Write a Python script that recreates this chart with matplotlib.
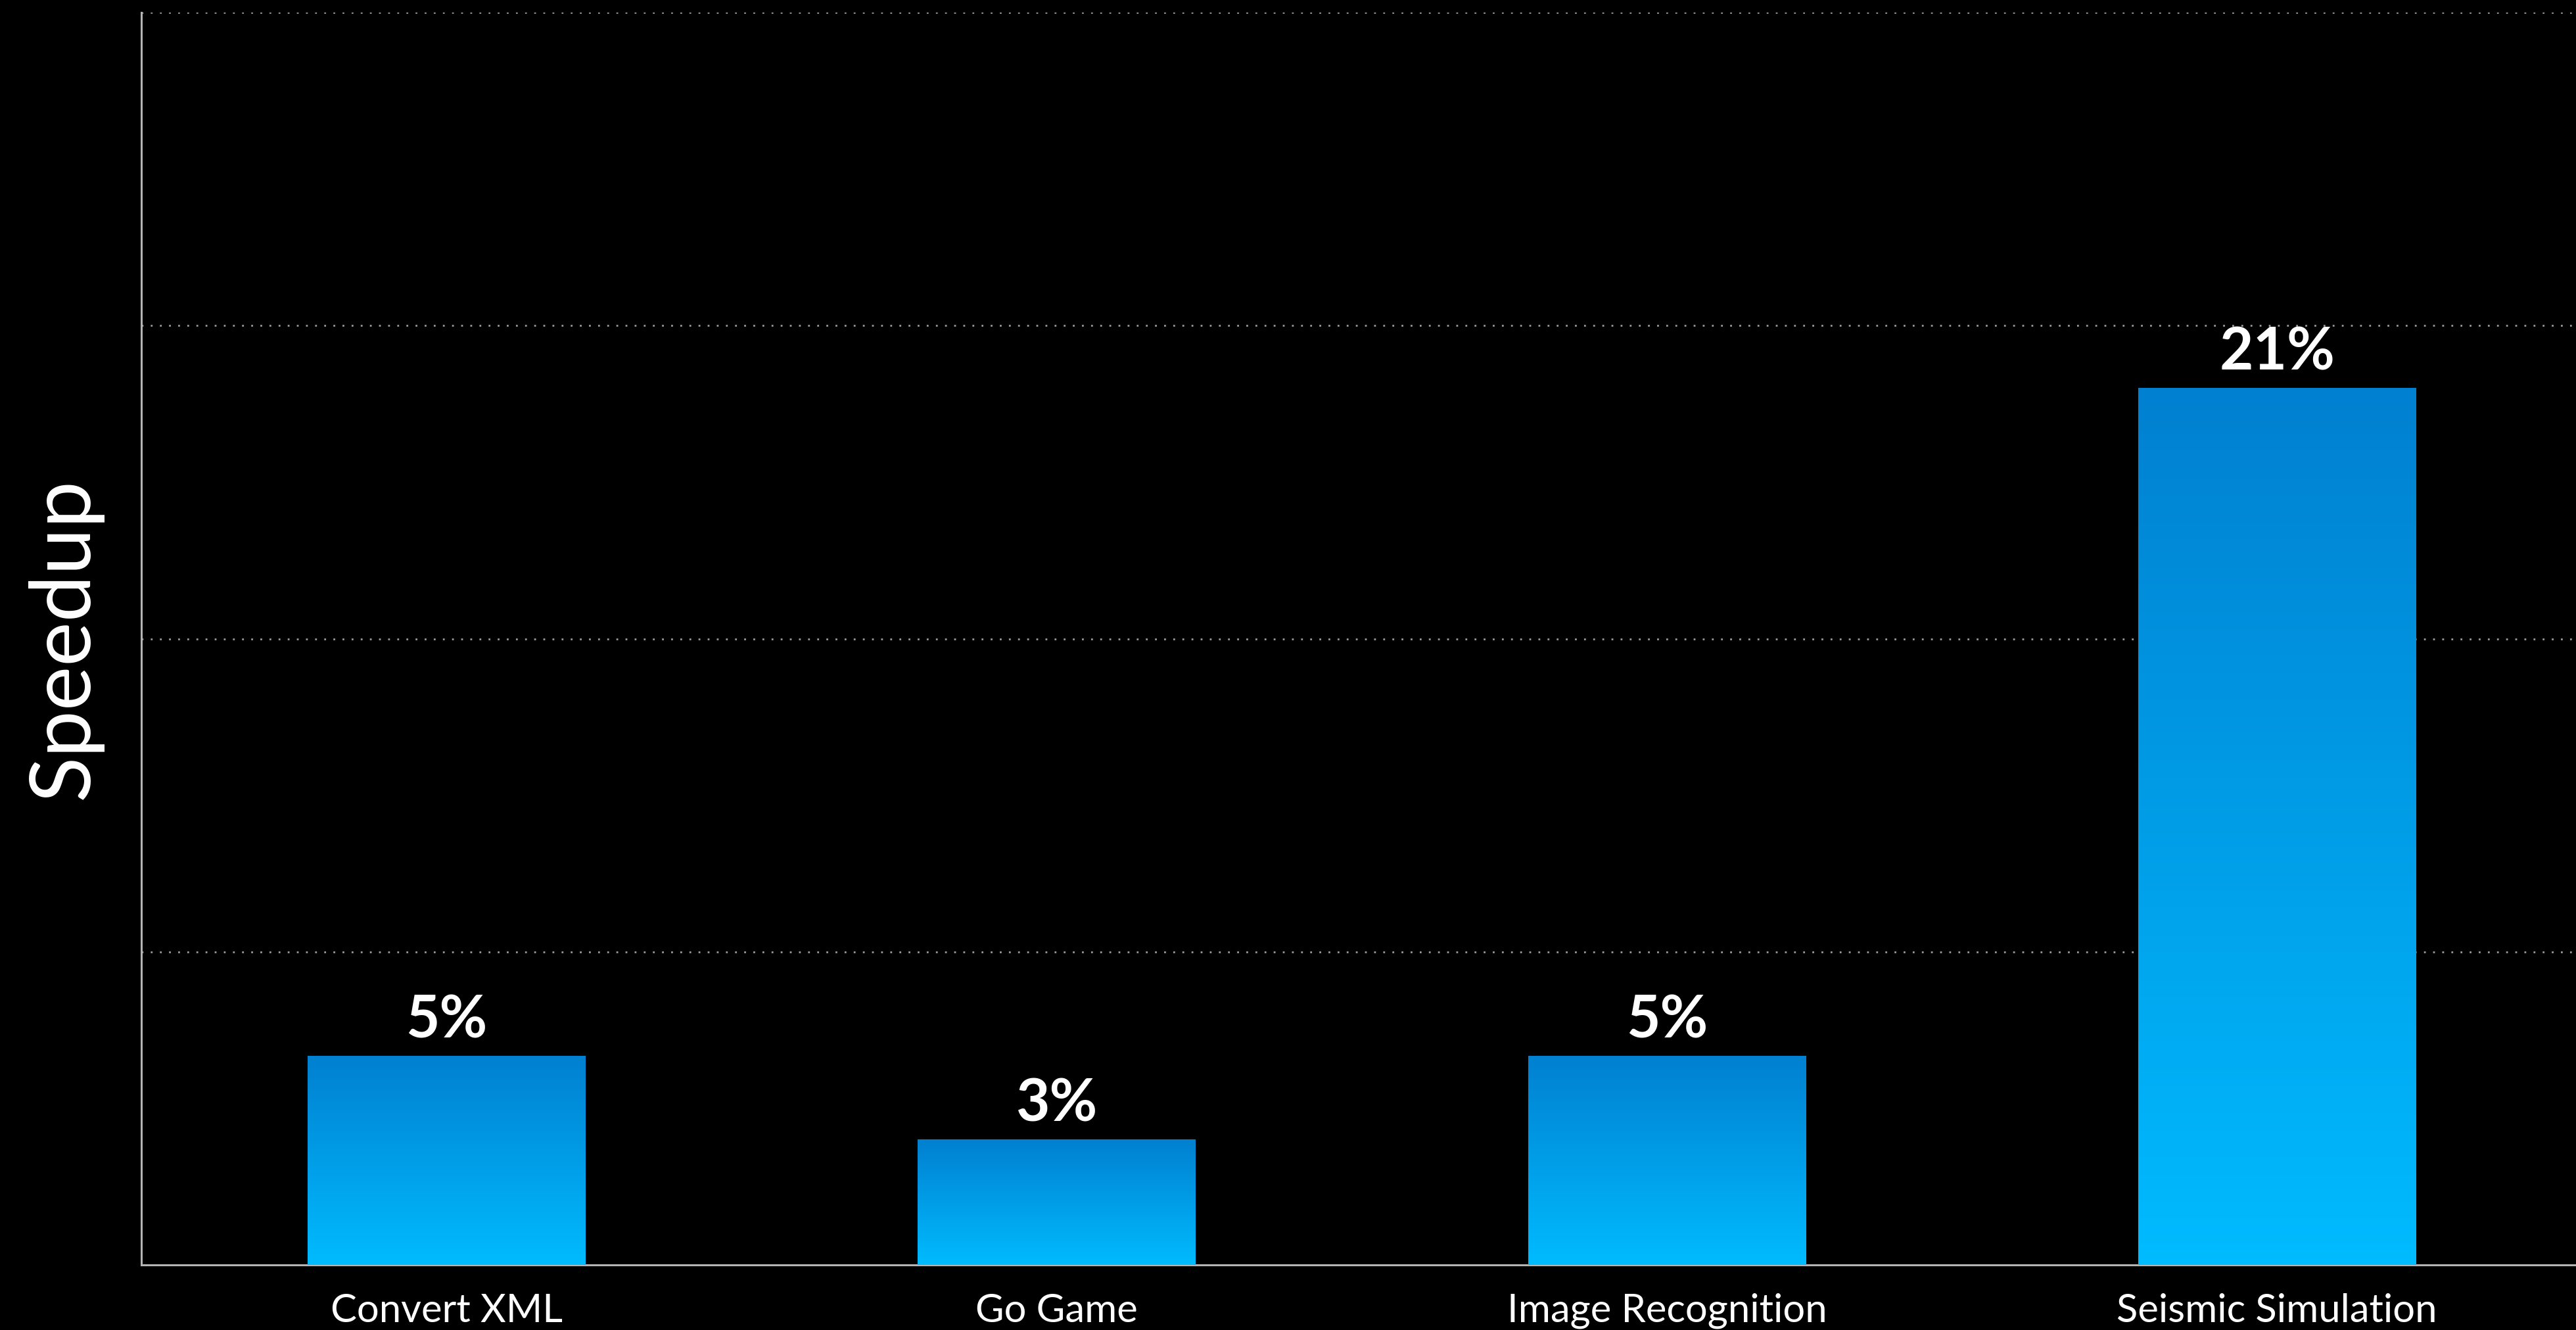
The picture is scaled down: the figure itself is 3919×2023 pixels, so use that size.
import matplotlib
matplotlib.use("Agg")
import matplotlib.pyplot as plt
import numpy as np
from matplotlib.colors import LinearSegmentedColormap

# benchmark speedups, percent
benchmarks = ["Convert XML", "Go Game", "Image Recognition", "Seismic Simulation"]
speedup = [5, 3, 5, 21]
labels = ["5%", "3%", "5%", "21%"]
grid_levels = [7.5, 15, 22.5, 30]

plt.rcParams['font.family'] = ['Lato', 'DejaVu Sans']

fig = plt.figure(figsize=(39.19, 20.24), dpi=100, facecolor='black')
ax = fig.add_axes([0.0549, 0.0489, 0.9451, 0.9412], facecolor='black')

x = np.arange(len(benchmarks))
bars = ax.bar(x, speedup, width=0.455, color='none', zorder=3)

# vertical blue gradient, dark at top of each bar, light at the base
blues = LinearSegmentedColormap.from_list("blues", ["#00BBFF", "#0080D0"])
grad = np.linspace(0, 1, 256).reshape(-1, 1)
for b in bars:
    x0, w, h = b.get_x(), b.get_width(), b.get_height()
    ax.imshow(grad, cmap=blues, origin='lower', aspect='auto',
              extent=[x0, x0 + w, 0, h], zorder=3, interpolation='bicubic')

for xi, v, t in zip(x, speedup, labels):
    ax.text(xi, v + 0.45, t, ha='center', va='baseline', color='white',
            fontsize=64, fontweight='bold', zorder=4)

ax.set_xlim(-0.5, 3.49)
ax.set_ylim(0, 30)
ax.set_xticks(x)
ax.set_xticklabels(benchmarks, color='white', fontsize=43)
ax.set_yticks(grid_levels)
ax.set_yticklabels([])
ax.tick_params(axis='both', length=0)
ax.tick_params(axis='x', pad=30)
ax.yaxis.grid(True, color='#9a9a9a', linestyle=(0, (1, 4)), linewidth=2.0, zorder=1)

for side in ['top', 'right']:
    ax.spines[side].set_visible(False)
for side in ['left', 'bottom']:
    ax.spines[side].set_color('#b4b4b4')
    ax.spines[side].set_linewidth(2.2)

fig.text(0.0250, 0.520, "Speedup", rotation=90, color='white', fontsize=92,
         ha='center', va='center')

fig.savefig("out.png", dpi=100, facecolor='black')
